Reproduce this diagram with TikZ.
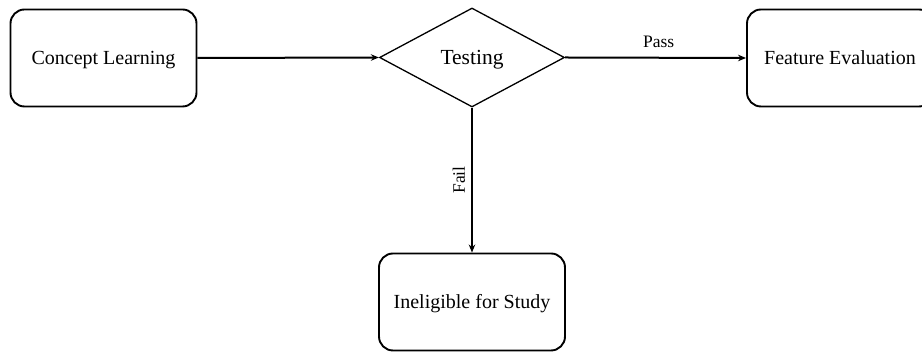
\documentclass[tikz,border=0pt]{standalone}
\usepackage{fontspec}
\setmainfont{Liberation Serif}
\usetikzlibrary{shapes.geometric,arrows.meta}

\tikzset{
  stagebox/.style={draw, rounded corners=14pt, line width=1.9pt,
    minimum width=186pt, minimum height=97pt, inner sep=0pt,
    text height=13.5pt, text depth=0pt,
    font=\fontsize{20}{24}\selectfont},
  decision/.style={draw, diamond, line width=1.3pt,
    minimum width=185pt, minimum height=99pt, inner sep=0pt,
    text height=14.5pt, text depth=0pt,
    font=\fontsize{21.5}{26}\selectfont},
  flow/.style={line width=2pt, -{Stealth[length=8pt,width=6.5pt]}},
  edgelabel/.style={font=\fontsize{17.5}{21}\selectfont, inner sep=0pt}
}

\begin{document}
\begin{tikzpicture}[x=1pt,y=1pt]
  \useasboundingbox[fill=white] (0,0) rectangle (922,352);

  \node[stagebox]  (concept)  at (103.5,294) {Concept Learning};
  \node[decision]  (testing)  at (472,294.5) {Testing};
  \node[stagebox]  (feature)  at (840,294) {Feature Evaluation};
  \node[stagebox]  (inelig)   at (472,50) {Ineligible for Study};

  \draw[flow] (concept.east) -- (testing.west);
  \draw[flow] (testing.east) -- node[edgelabel, above=9pt, xshift=3pt] (pass) {Pass} (feature.west);
  \draw[flow] (testing.south) -- node[edgelabel, rotate=90, anchor=south, yshift=6pt] (fail) {Fail} (inelig.north);
\end{tikzpicture}
\end{document}
